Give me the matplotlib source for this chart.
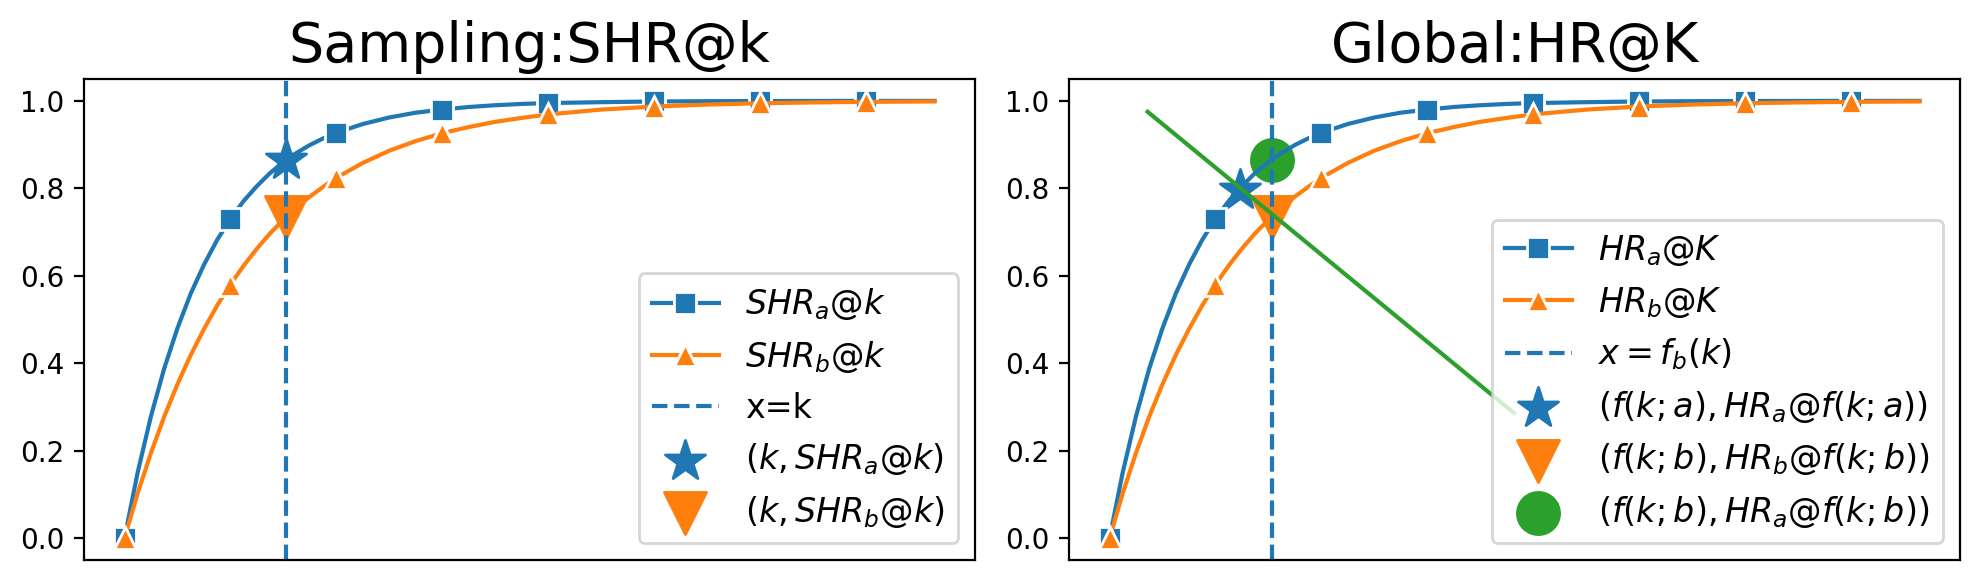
import matplotlib.pyplot as plt

# dense curve points and which of them carry markers
curve_x = [0, 0.125, 0.25, 0.375, 0.5, 0.625, 0.75, 0.875, 1, 1.125, 1.25,
           1.375, 1.5, 1.625, 1.75, 1.875, 2, 2.25, 2.5, 2.75, 3, 3.25, 3.5,
           3.75, 4, 4.5, 5, 5.5, 6, 6.5, 7, 7.65]
curve_a = [0, 0.151, 0.279, 0.388, 0.480, 0.559, 0.625, 0.682, 0.730, 0.771,
           0.805, 0.835, 0.860, 0.881, 0.899, 0.914, 0.927, 0.947, 0.962,
           0.973, 0.980, 0.986, 0.990, 0.993, 0.995, 0.997, 0.9986, 0.9993,
           0.9996, 0.9998, 0.9999, 1.0]
curve_b = [0, 0.103, 0.195, 0.278, 0.352, 0.4185, 0.478, 0.532, 0.580, 0.623,
           0.662, 0.697, 0.728, 0.756, 0.781, 0.803, 0.824, 0.858, 0.886,
           0.908, 0.926, 0.940, 0.952, 0.961, 0.969, 0.980, 0.987, 0.9915,
           0.9945, 0.9964, 0.9977, 0.9987]
marker_x = [0, 1, 2, 3, 4, 5, 6, 7]

k = 1.53
k_a = 1.23
hr_a_k = 0.865
hr_b_k = 0.735
hr_a_ka = 0.797
green_x = [0.36, 3.82]
green_y = [0.975, 0.286]

marks = [curve_x.index(v) for v in marker_x]

fig = plt.figure(figsize=(9.895, 2.9), dpi=200)
ax1 = fig.add_axes([0.04245, 0.03448, 0.4502, 0.8293])
ax2 = fig.add_axes([0.5402, 0.03448, 0.4502, 0.8293])

line_kw = dict(lw=1.5, markersize=8, markeredgecolor='white', markeredgewidth=1)

# left panel
ax1.plot(curve_x, curve_a, marker='s', markevery=marks, color='tab:blue',
         label=r'$SHR_a@k$', **line_kw)
ax1.plot(curve_x, curve_b, marker='^', markevery=marks, color='tab:orange',
         label=r'$SHR_b@k$', **line_kw)
ax1.axvline(k, ls='--', color='tab:blue', lw=1.5, label='x=k')
ax1.scatter([k], [hr_a_k], marker='*', s=230, color='tab:blue',
            label=r'$(k,SHR_a@k)$')
ax1.scatter([k], [hr_b_k], marker='v', s=230, color='tab:orange',
            label=r'$(k,SHR_b@k)$')
ax1.set_title('Sampling:SHR@k', fontsize=20)
ax1.legend(loc='lower right', fontsize=12)

# right panel
ax2.plot(curve_x, curve_a, marker='s', markevery=marks, color='tab:blue',
         label=r'$HR_a@K$', **line_kw)
ax2.plot(curve_x, curve_b, marker='^', markevery=marks, color='tab:orange',
         label=r'$HR_b@K$', **line_kw)
ax2.axvline(k, ls='--', color='tab:blue', lw=1.5, label=r'$x=f_b(k)$')
ax2.scatter([k_a], [hr_a_ka], marker='*', s=230, color='tab:blue',
            label=r'$(f(k;a),HR_a@f(k;a))$')
ax2.scatter([k], [hr_b_k], marker='v', s=230, color='tab:orange',
            label=r'$(f(k;b),HR_b@f(k;b))$')
ax2.scatter([k], [hr_a_k], marker='o', s=230, color='tab:green',
            label=r'$(f(k;b),HR_a@f(k;b))$')
ax2.plot(green_x, green_y, color='tab:green', lw=1.5)
ax2.set_title('Global:HR@K', fontsize=20)
ax2.legend(loc='lower right', fontsize=12)

for ax in (ax1, ax2):
    ax.set_xticks([])
    ax.tick_params(labelsize=10)

fig.savefig('out.png', dpi=200)
